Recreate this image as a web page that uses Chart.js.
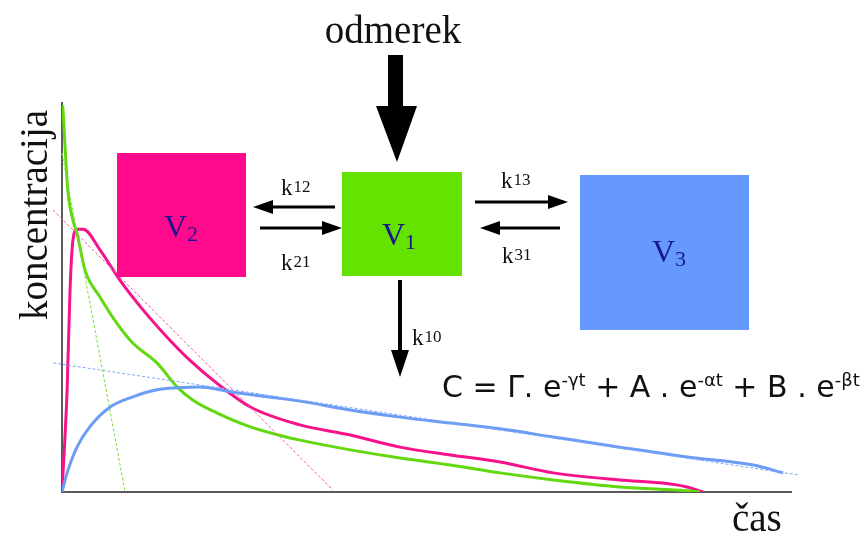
<!DOCTYPE html>
<html>
<head>
<meta charset="utf-8">
<script src="https://cdn.jsdelivr.net/npm/chart.js@4.4.1/dist/chart.umd.min.js"></script>
<style>
  body { margin: 0; background: #fff; }
  canvas { display: block; }
</style>
</head>
<body>
<canvas id="farmako" width="862" height="540"></canvas>
<script>
// osrednji predelek V1 (zelena)
const centralX = [0.1, 0.8, 1.5, 2.05, 3.15, 5.2, 7.5, 9.7, 13, 15.8, 17.9, 21.2, 25.8, 30.3, 32.6, 39.5, 46.3, 53.2, 60, 67.3, 76.4, 85.6, 87.4];
const centralY = [99.2, 77.4, 69.7, 66.4, 56.9, 50, 43.3, 38.2, 33.1, 26.9, 23.6, 20.3, 16.7, 14.3, 13.3, 10.8, 8.7, 6.9, 4.9, 3.1, 1.3, 0.3, 0];

// hitri periferni predelek V2 (roza)
const fastX = [0, 0.7, 1.1, 1.5, 2.1, 2.9, 5.2, 7.9, 11.1, 14.4, 17.5, 21.2, 25.8, 32.6, 39.5, 46.3, 53.2, 60, 67.3, 76.4, 82.3, 85.6, 87.8];
const fastY = [0, 26.2, 51.8, 64.6, 67.4, 67.4, 62.1, 54.4, 46.7, 39.7, 33.8, 27.9, 21.8, 17.2, 14.6, 11.5, 9.5, 7.7, 4.9, 3.1, 2.3, 1.3, 0];

// počasni periferni predelek V3 (modra)
const slowX = [0, 0.7, 2.05, 3.8, 6.6, 9.7, 13, 15.8, 18.9, 23.4, 28.1, 32.6, 39.5, 46.3, 53.2, 60, 67.3, 76.4, 85.6, 94.7, 98.8];
const slowY = [0, 4.9, 11.5, 16.7, 21.8, 24.4, 26.2, 26.7, 26.9, 25.6, 24.4, 23.3, 21, 19.2, 17.7, 16.2, 14.1, 11.5, 9, 6.9, 4.9];

// asimptote (premice)
const gammaLine = { x: [0, 8.6], y: [86.9, 0.5] };
const alphaLine = { x: [-1.23, 37.1], y: [72.3, 0.5] };
const betaLine = { x: [-1.23, 100.8], y: [33.1, 4.4] };

const toPoints = (xs, ys) => xs.map((x, i) => ({ x: x, y: ys[i] }));

const GREEN = '#62d80e';
const PINK = '#f5128a';
const BLUE = '#6b9cf6';

function curve(xs, ys, color) {
    return {
        data: toPoints(xs, ys),
        borderColor: color,
        borderWidth: 3,
        pointRadius: 0,
        cubicInterpolationMode: 'monotone',
        fill: false
    };
}

function asymptote(line, color) {
    return {
        data: toPoints(line.x, line.y),
        borderColor: color,
        borderWidth: 1,
        borderDash: [3, 2],
        pointRadius: 0,
        clip: false,
        fill: false
    };
}

// oznaka k z indeksom
function drawK(ctx, x, base, digits) {
    ctx.font = '23px "Liberation Serif"';
    ctx.fillText('k', x, base);
    const w = ctx.measureText('k').width;
    ctx.font = '17px "Liberation Serif"';
    ctx.fillText(digits, x + w + 1, base - 3);
}

function arrow(ctx, x1, y1, x2, y2, width, headLen, headHalf) {
    const ang = Math.atan2(y2 - y1, x2 - x1);
    const bx = x2 - Math.cos(ang) * headLen;
    const by = y2 - Math.sin(ang) * headLen;
    ctx.lineWidth = width;
    ctx.beginPath();
    ctx.moveTo(x1, y1);
    ctx.lineTo(bx, by);
    ctx.stroke();
    ctx.beginPath();
    ctx.moveTo(x2, y2);
    ctx.lineTo(bx - Math.sin(ang) * headHalf, by + Math.cos(ang) * headHalf);
    ctx.lineTo(bx + Math.sin(ang) * headHalf, by - Math.cos(ang) * headHalf);
    ctx.closePath();
    ctx.fill();
}

function volume(ctx, x, base, sub) {
    ctx.fillStyle = '#1c1590';
    ctx.font = '32px "Liberation Serif"';
    ctx.fillText('V', x, base);
    const w = ctx.measureText('V').width;
    ctx.font = '22px "Liberation Serif"';
    ctx.fillText(sub, x + w, base + 4);
}

const axesPlugin = {
    id: 'axes',
    beforeDatasetsDraw(chart) {
        const { ctx, chartArea: a } = chart;
        ctx.save();
        ctx.strokeStyle = '#5a5a5a';
        ctx.lineWidth = 2;
        ctx.beginPath();
        ctx.moveTo(a.left, a.top);
        ctx.lineTo(a.left, a.bottom);
        ctx.lineTo(a.right, a.bottom);
        ctx.stroke();
        ctx.restore();
    }
};

const diagramPlugin = {
    id: 'diagram',
    afterDraw(chart) {
        const ctx = chart.ctx;
        ctx.save();

        // predelki
        ctx.fillStyle = '#ff0a8c';
        ctx.fillRect(117, 153, 129, 124);
        ctx.fillStyle = '#64e200';
        ctx.fillRect(342, 172, 120, 104);
        ctx.fillStyle = '#6699ff';
        ctx.fillRect(580, 175, 169, 155);

        volume(ctx, 164, 237, '2');
        volume(ctx, 382, 245, '1');
        volume(ctx, 652, 262, '3');

        // puščice
        ctx.fillStyle = '#000';
        ctx.strokeStyle = '#000';
        ctx.fillRect(388, 55, 15, 52);
        ctx.beginPath();
        ctx.moveTo(376, 106);
        ctx.lineTo(417, 106);
        ctx.lineTo(397, 162);
        ctx.closePath();
        ctx.fill();

        arrow(ctx, 335, 207, 253, 207, 3, 20, 7);
        arrow(ctx, 260, 228, 342, 228, 3, 20, 7);
        arrow(ctx, 475, 202, 568, 202, 3, 20, 7);
        arrow(ctx, 560, 228, 480, 228, 3, 20, 7);
        arrow(ctx, 400, 280, 400, 377, 4, 27, 9);

        // besedilo
        ctx.fillStyle = '#111';
        ctx.textBaseline = 'alphabetic';
        drawK(ctx, 281, 195, '12');
        drawK(ctx, 281, 270, '21');
        drawK(ctx, 501, 188, '13');
        drawK(ctx, 502, 263, '31');
        drawK(ctx, 412, 345, '10');

        ctx.font = '39px "Liberation Serif"';
        ctx.textAlign = 'center';
        ctx.fillText('odmerek', 393, 43);
        ctx.textAlign = 'left';
        ctx.fillText('čas', 732, 531);

        ctx.save();
        ctx.translate(47, 215);
        ctx.rotate(-Math.PI / 2);
        ctx.textAlign = 'center';
        ctx.fillText('koncentracija', 0, 0);
        ctx.restore();

        // enačba
        const parts = [
            ['C = Γ. e', false], ['-γt', true],
            [' + A . e', false], ['-αt', true],
            [' + B . e', false], ['-βt', true]
        ];
        let x = 442;
        const base = 397;
        ctx.textAlign = 'left';
        parts.forEach(([txt, sup]) => {
            ctx.font = sup ? '18px "DejaVu Sans"' : '30px "DejaVu Sans"';
            ctx.fillText(txt, x, sup ? base - 11 : base);
            x += ctx.measureText(txt).width;
        });

        ctx.restore();
    }
};

new Chart(document.getElementById('farmako'), {
    type: 'line',
    data: {
        datasets: [
            asymptote(gammaLine, '#7ddc3a'),
            asymptote(alphaLine, '#f55aaa'),
            asymptote(betaLine, '#7fa8f8'),
            curve(slowX, slowY, BLUE),
            curve(centralX, centralY, GREEN),
            curve(fastX, fastY, PINK)
        ]
    },
    options: {
        responsive: false,
        animation: false,
        layout: { padding: { left: 62, right: 70, top: 102, bottom: 48 } },
        scales: {
            x: { type: 'linear', min: 0, max: 100, display: false },
            y: { type: 'linear', min: 0, max: 100, display: false }
        },
        plugins: {
            legend: { display: false },
            tooltip: { enabled: false }
        }
    },
    plugins: [axesPlugin, diagramPlugin]
});
</script>
</body>
</html>
